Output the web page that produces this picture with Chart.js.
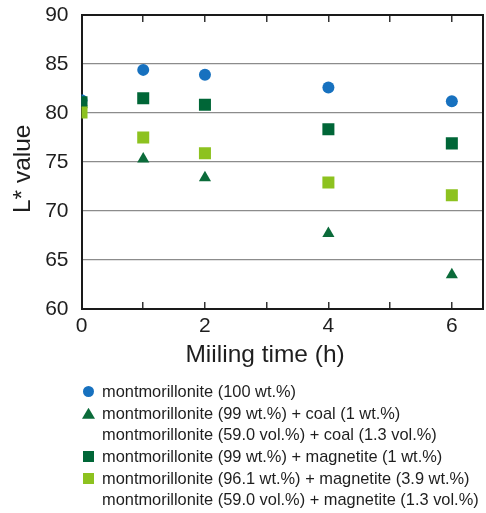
<!DOCTYPE html>
<html>
<head>
<meta charset="utf-8">
<script src="https://cdn.jsdelivr.net/npm/chart.js@4"></script>
<style>
  body { margin: 0; background: #fff; }
  #wrap { position: relative; width: 486px; height: 513px; }
  #legend { position: absolute; left: 0; top: 381px; font: 16.4px "Liberation Sans", Arial, sans-serif; color: #1e1e1e; }
  #legend .row { position: relative; height: 21.67px; line-height: 21.67px; padding-left: 102px; white-space: nowrap; }
  #legend .mark { position: absolute; left: 83px; top: 5px; width: 11px; height: 11px; }
  #legend .circle { border-radius: 50%; }
  #legend .triangle { width: 13px; left: 82px; clip-path: polygon(50% 0, 100% 100%, 0 100%); }
</style>
</head>
<body>
<div id="wrap">
  <canvas id="lChart" width="486" height="513"></canvas>
  <div id="legend"></div>
</div>
<script>
// milling time (h) and L* readings per sample
const millingTime = [0, 1, 2, 4, 6];
const clay100 = [81.3, 84.4, 83.9, 82.6, 81.2];
const clayCoal = [81.1, 75.3, 73.4, 67.7, 63.5];
const clayMag1 = [81.1, 81.5, 80.85, 78.35, 76.9];
const clayMag39 = [80.05, 77.5, 75.9, 72.9, 71.6];

const yTicks = [60, 65, 70, 75, 80, 85, 90];
const xTickMarks = [0, 1, 2, 3, 4, 5, 6];
const xTickLabels = [0, 2, 4, 6];

const seriesNames = [
    'montmorillonite (100 wt.%)',
    'montmorillonite (99 wt.%) + coal (1 wt.%)',
    'montmorillonite (99 wt.%) + magnetite (1 wt.%)',
    'montmorillonite (96.1 wt.%) + magnetite (3.9 wt.%)'
];
// second legend line for some samples (volume fractions)
const seriesNotes = [
    null,
    'montmorillonite (59.0 vol.%) + coal (1.3 vol.%)',
    null,
    'montmorillonite (59.0 vol.%) + magnetite (1.3 vol.%)'
];

const colors = ['#1771bf', '#0b6b3a', '#006637', '#8dc21f'];
const shapes = ['circle', 'triangle', 'rect', 'rect'];
const radii = [6, 7, 8.5, 8.5];
const seriesValues = [clay100, clayCoal, clayMag1, clayMag39];

Chart.defaults.font.family = '"Liberation Sans", Arial, sans-serif';
Chart.defaults.color = '#1e1e1e';

const toPoints = vals => vals.map((v, i) => ({ x: millingTime[i], y: v }));

const datasets = seriesValues.map((vals, i) => ({
    label: seriesNames[i],
    data: toPoints(vals),
    pointStyle: shapes[i],
    pointRadius: radii[i],
    pointHoverRadius: radii[i],
    backgroundColor: colors[i],
    borderColor: colors[i],
    borderWidth: 0,
    showLine: false,
    order: seriesValues.length - i
}));

const edge = { color: '#1a1a1a', width: 2 };
const innerTicks = { drawOnChartArea: false, drawTicks: true, tickLength: -7, color: '#333', lineWidth: 1.5 };
const setXTicks = s => { s.ticks = xTickMarks.map(v => ({ value: v })); };
const setYTicks = s => { s.ticks = yTicks.map(v => ({ value: v })); };

// fixed box sizes, and no extra room reserved for overhanging labels
const fixBox = (w, h) => s => {
    if (w !== null) s.width = w;
    if (h !== null) s.height = h;
    s.paddingTop = s.paddingBottom = s.paddingLeft = s.paddingRight = 0;
};

new Chart(document.getElementById('lChart'), {
    type: 'scatter',
    data: { datasets },
    options: {
        responsive: false,
        animation: false,
        layout: { autoPadding: false, padding: { top: 0, right: 0, bottom: 143, left: 0 } },
        plugins: { legend: { display: false }, tooltip: { enabled: false } },
        scales: {
            x: {
                type: 'linear', position: 'bottom', min: 0, max: 6.5,
                afterBuildTicks: setXTicks,
                ticks: {
                    font: { size: 21 }, color: '#1e1e1e', padding: 12, maxRotation: 0, autoSkip: false,
                    callback: v => xTickLabels.includes(v) ? String(v) : ''
                },
                grid: innerTicks,
                border: edge,
                title: { display: true, text: 'Miiling time (h)     ', font: { size: 24.5 }, color: '#1e1e1e', padding: 0 },
                afterFit: fixBox(null, 61)
            },
            xTop: {
                type: 'linear', position: 'top', min: 0, max: 6.5,
                afterBuildTicks: setXTicks,
                ticks: { display: false },
                grid: innerTicks,
                border: edge,
                afterFit: fixBox(null, 15)
            },
            y: {
                type: 'linear', position: 'left', min: 60, max: 90,
                afterBuildTicks: setYTicks,
                ticks: { font: { size: 21 }, color: '#1e1e1e', padding: 13 },
                grid: { color: '#8c8c8c', lineWidth: 1.2, drawTicks: false },
                border: edge,
                title: { display: true, text: 'L* value  ', font: { size: 24.5 }, color: '#1e1e1e', padding: { top: 8.7, bottom: 0 } },
                afterFit: fixBox(81.5, null)
            },
            yRight: {
                type: 'linear', position: 'right', min: 60, max: 90,
                ticks: { display: false },
                grid: { drawOnChartArea: false, drawTicks: false },
                border: edge,
                afterFit: fixBox(3.3, null)
            }
        }
    }
});

// legend below the plot, one row per line of text
const legend = document.getElementById('legend');
seriesNames.forEach((name, i) => {
    const row = document.createElement('div');
    row.className = 'row';
    const mark = document.createElement('span');
    mark.className = 'mark' + (shapes[i] === 'circle' ? ' circle' : shapes[i] === 'triangle' ? ' triangle' : '');
    mark.style.background = colors[i];
    row.appendChild(mark);
    row.appendChild(document.createTextNode(name));
    legend.appendChild(row);
    if (seriesNotes[i]) {
        const note = document.createElement('div');
        note.className = 'row';
        note.textContent = seriesNotes[i];
        legend.appendChild(note);
    }
});
</script>
</body>
</html>
